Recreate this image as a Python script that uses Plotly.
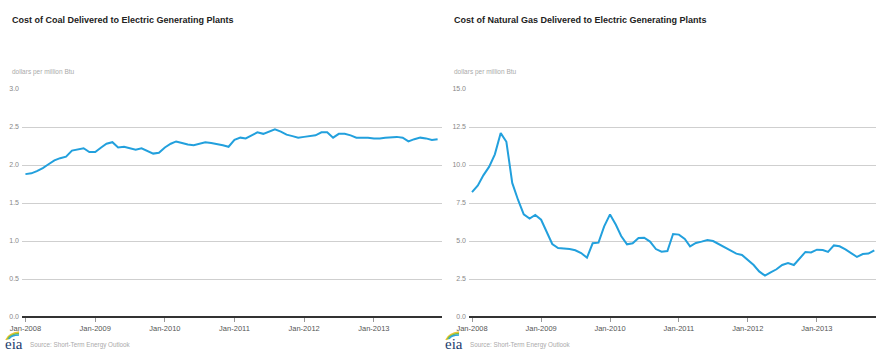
import pandas as pd
import plotly.graph_objects as go

W, H = 876, 351

months = pd.date_range("2008-01-01", "2013-12-01", freq="MS")

coal_cost = [
    1.88, 1.89, 1.92, 1.96, 2.01, 2.06, 2.09, 2.11, 2.19, 2.20, 2.22, 2.17,
    2.17, 2.23, 2.28, 2.30, 2.23, 2.24, 2.22, 2.20, 2.22, 2.19, 2.15, 2.16,
    2.23, 2.28, 2.31, 2.29, 2.27, 2.26, 2.28, 2.30, 2.29, 2.28, 2.26, 2.24,
    2.33, 2.36, 2.35, 2.39, 2.43, 2.41, 2.44, 2.47, 2.44, 2.40, 2.38, 2.36,
    2.37, 2.38, 2.39, 2.43, 2.43, 2.36, 2.41, 2.41, 2.39, 2.36, 2.36, 2.36,
    2.35, 2.35, 2.36, 2.37, 2.37, 2.36, 2.31, 2.34, 2.36, 2.35, 2.33, 2.34,
]

gas_cost = [
    8.21, 8.65, 9.32, 9.89, 10.70, 12.10, 11.53, 8.82, 7.70, 6.75, 6.47, 6.71,
    6.40, 5.53, 4.80, 4.54, 4.52, 4.47, 4.39, 4.21, 3.90, 4.85, 4.89, 5.96,
    6.75, 6.07, 5.33, 4.78, 4.85, 5.20, 5.22, 4.96, 4.47, 4.30, 4.34, 5.46,
    5.42, 5.13, 4.65, 4.87, 4.96, 5.07, 5.00, 4.78, 4.58, 4.39, 4.17, 4.08,
    3.77, 3.42, 3.00, 2.72, 2.94, 3.14, 3.42, 3.55, 3.42, 3.86, 4.28, 4.25,
    4.43, 4.41, 4.28, 4.71, 4.65, 4.45, 4.21, 3.95, 4.14, 4.17, 4.39,
]

coal_ticks = [0.0, 0.5, 1.0, 1.5, 2.0, 2.5, 3.0]
gas_ticks = [0.0, 2.5, 5.0, 7.5, 10.0, 12.5, 15.0]

titles = [
    "Cost of Coal Delivered to Electric Generating Plants",
    "Cost of Natural Gas Delivered to Electric Generating Plants",
]
unit_label = "dollars per million Btu"
source_label = "Source: Short-Term Energy Outlook"

LINE = "rgb(34,160,221)"
NARROW = "Liberation Sans Narrow, Arial Narrow, Liberation Sans, sans-serif"


def px(x):
    return x / W


def py(y):
    return 1 - y / H


fig = go.Figure()
fig.add_trace(go.Scatter(x=months[:len(coal_cost)], y=coal_cost, mode="lines",
                         line=dict(color=LINE, width=2), xaxis="x", yaxis="y",
                         hoverinfo="x+y"))
fig.add_trace(go.Scatter(x=months[:len(gas_cost)], y=gas_cost, mode="lines",
                         line=dict(color=LINE, width=2), xaxis="x2", yaxis="y2",
                         hoverinfo="x+y"))

xcommon = dict(
    type="date", tickformat="%b-%Y", dtick="M12", tick0="2008-01-01",
    showgrid=False, showline=False, zeroline=False, automargin=False,
    ticks="outside", ticklen=4, tickcolor="#999", tickwidth=1,
    tickfont=dict(family=NARROW, size=7.5, color="#555"),
)
ycommon = dict(
    showgrid=True, gridcolor="#cfcfcf", gridwidth=1, automargin=False,
    zeroline=True, zerolinecolor="#333", zerolinewidth=1.5,
    showline=False, ticks="", tickformat=".1f", ticklabelstandoff=2,
    tickfont=dict(family=NARROW, size=7, color="#888"),
)

ydom = [py(317), py(89)]
fig.update_layout(
    width=W, height=H,
    margin=dict(l=0, r=0, t=0, b=0),
    paper_bgcolor="white", plot_bgcolor="white",
    showlegend=False,
    xaxis=dict(xcommon, domain=[px(22), px(442)], anchor="y",
               range=["2007-12-14", "2013-12-24"]),
    yaxis=dict(ycommon, domain=ydom, anchor="x", range=[0, 3.0],
               tickvals=coal_ticks),
    xaxis2=dict(xcommon, domain=[px(469), 1.0], anchor="y2",
                range=["2007-12-16", "2013-11-10"]),
    yaxis2=dict(ycommon, domain=ydom, anchor="x2", range=[0, 15.0],
                tickvals=gas_ticks),
)

annotations = []
for x0, title in zip([10, 452], titles):
    annotations.append(dict(
        text="<b>" + title + "</b>", x=px(x0), y=py(20), xref="paper", yref="paper",
        xanchor="left", yanchor="middle", showarrow=False,
        font=dict(family=NARROW, size=9, color="#222"),
    ))
    annotations.append(dict(
        text=unit_label, x=px(x0), y=py(72), xref="paper", yref="paper",
        xanchor="left", yanchor="middle", showarrow=False,
        font=dict(family=NARROW, size=6.5, color="#aaa"),
    ))
for x0 in [0, 440]:
    annotations.append(dict(
        text=source_label, x=px(x0 + 28), y=py(345), xref="paper", yref="paper",
        xanchor="left", yanchor="middle", showarrow=False,
        font=dict(family=NARROW, size=6.3, color="#aaa"),
    ))
    annotations.append(dict(
        text="eia", x=px(x0 + 3), y=py(344), xref="paper", yref="paper",
        xanchor="left", yanchor="middle", showarrow=False,
        font=dict(family="Liberation Serif, DejaVu Serif, serif", size=15,
                  color="#1d3c6e"),
    ))
fig.update_layout(annotations=annotations)

# small coloured arcs of the agency logo
shapes = []
for x0 in [0, 440]:
    for i, col in enumerate(["#f2c230", "#7fbf3f", "#2ea3dc"]):
        xs, ys = x0 + 6 + i * 1.5, 340 - i * 0.5
        xe, ye = x0 + 19, 332 + i * 1.5
        cx, cy = x0 + 9 + i, 333 + i
        path = "M {:.4f},{:.4f} Q {:.4f},{:.4f} {:.4f},{:.4f}".format(
            px(xs), py(ys), px(cx), py(cy), px(xe), py(ye))
        shapes.append(dict(type="path", path=path, xref="paper", yref="paper",
                           line=dict(color=col, width=1.6)))
fig.update_layout(shapes=shapes)

fig.write_html("out.html")
